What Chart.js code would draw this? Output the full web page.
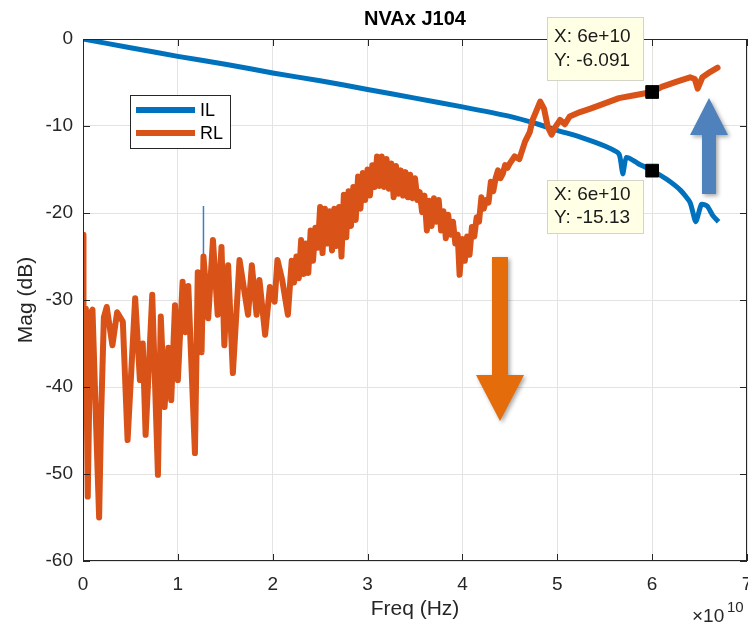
<!DOCTYPE html>
<html>
<head>
<meta charset="utf-8">
<title>NVAx J104</title>
<script src="https://cdn.jsdelivr.net/npm/chart.js@4"></script>
<style>
  html, body { margin: 0; padding: 0; background: #fff; }
  #wrap { width: 748px; height: 625px; position: relative; }
</style>
</head>
<body>
<div id="wrap"><canvas id="magChart" width="748" height="625"></canvas></div>
<script>
// frequency in units of 1e10 Hz, magnitude in dB
const ilFreq = [0, 0.5, 1.0, 1.5, 2.0, 2.5, 3.0, 3.5, 4.0, 4.5, 4.8, 5.0, 5.25, 5.5, 5.65, 5.69, 5.73, 5.85, 6.0, 6.15, 6.3, 6.4, 6.46, 6.52, 6.58, 6.64, 6.7];
const ilMag = [0, -1.0, -2.0, -2.9, -3.9, -4.8, -5.8, -6.8, -7.8, -8.9, -9.8, -10.5, -11.3, -12.3, -13.2, -15.5, -13.6, -14.3, -15.13, -16.1, -17.4, -18.8, -21.0, -19.0, -19.2, -20.3, -21.0];

const rlFreq = [0.00, 0.005, 0.03, 0.05, 0.08, 0.10, 0.14, 0.17, 0.19, 0.22, 0.25, 0.31, 0.36, 0.42, 0.47, 0.55, 0.60, 0.63, 0.66, 0.73,
  0.79, 0.82, 0.86, 0.90, 0.93, 0.97, 1.00, 1.05, 1.08, 1.11, 1.18, 1.21, 1.25, 1.27, 1.32, 1.37, 1.42, 1.46, 1.49, 1.53,
  1.58, 1.65, 1.74, 1.78, 1.83, 1.86, 1.92, 1.97, 2.02, 2.05, 2.10, 2.16,
  2.20, 2.225, 2.25, 2.275, 2.30, 2.325, 2.35, 2.375, 2.40, 2.425, 2.45, 2.475, 2.50, 2.525, 2.55, 2.575, 2.60, 2.625, 2.65, 2.675,
  2.70, 2.725, 2.75, 2.775, 2.80, 2.825, 2.85, 2.875, 2.90, 2.925, 2.95, 2.975, 3.00, 3.025, 3.05, 3.075, 3.10, 3.125, 3.15, 3.175,
  3.20, 3.225, 3.25, 3.275, 3.30, 3.325, 3.35, 3.375, 3.40, 3.425, 3.45, 3.475, 3.50, 3.525, 3.55, 3.575, 3.60, 3.625, 3.65, 3.675,
  3.70, 3.725, 3.75, 3.775, 3.80, 3.825, 3.85, 3.875, 3.90, 3.925, 3.95, 3.97, 4.00, 4.025, 4.05, 4.075, 4.10, 4.125, 4.15, 4.175,
  4.20, 4.225, 4.25, 4.275, 4.30, 4.325, 4.35, 4.375, 4.40, 4.425, 4.45, 4.475, 4.50,
  4.55, 4.60, 4.66, 4.71, 4.74, 4.82, 4.86, 4.90, 4.94, 4.98, 5.03, 5.08, 5.13, 5.24,
  5.35, 5.45, 5.55, 5.65, 5.80, 6.00, 6.10, 6.26, 6.40, 6.45, 6.48, 6.53, 6.61, 6.69];
const rlMag = [-22.5, -41, -31, -52.6, -31.5, -31.1, -45, -55.0, -43.8, -32, -30.8, -35.2, -31.4, -32.5, -46.1, -29.8, -39.2, -35, -45.5, -29.4,
  -50.1, -31.9, -42.3, -35.5, -41.5, -30.6, -39.2, -27.9, -33.7, -28.4, -47.6, -26.8, -36, -25.0, -32.1, -23.1, -31.7, -23.9, -35.2, -26,
  -38.4, -25.4, -31.7, -26, -31.7, -27.7, -34, -28.5, -30.2, -25.4, -27.7, -31.7,
  -25.5, -28, -25, -27.5, -23.1, -27, -23.5, -26.9, -22, -25.5, -21.7, -24, -19.3, -24.6, -19.5, -23.5, -19.8, -24.3, -19.5, -23.8,
  -19.3, -25, -17.9, -22.8, -17.5, -21.5, -17, -20.8, -15.8, -19.5, -15.4, -18.5, -15, -18, -14.5, -17, -13.5, -16.9, -13.5, -17,
  -13.8, -17.2, -14.3, -18.2, -14.6, -17.8, -15.1, -18, -15.3, -18.2, -15.6, -18.3, -16, -18.5, -17.6, -19.9, -18, -22, -18.6, -21.5,
  -18.3, -21, -18.5, -22, -19.8, -22.9, -20.2, -22.5, -21, -23.5, -22.5, -27.1, -23, -25.5, -22.7, -24.8, -21.6, -22.7, -20.5, -21,
  -18.2, -19.5, -18.5, -18.8, -16.4, -17.5, -16, -15.1, -16, -15.5, -14.5, -14.8, -14.3,
  -13.5, -13.8, -11.8, -10.7, -9.3, -7.2, -8.0, -10.1, -11.0, -10.1, -9.3, -9.8, -8.9, -8.4,
  -8.0, -7.6, -7.2, -6.8, -6.5, -6.091, -5.5, -4.9, -4.4, -4.6, -5.7, -4.4, -3.8, -3.3];

// short IL glitch near 1.27e10
const spikeFreq = [1.27, 1.27];
const spikeMag = [-19.2, -25.0];

// data cursors
const tipFreq = [6, 6];
const tipMag = [-6.091, -15.13];
const tipText = [['X: 6e+10', 'Y: -6.091'], ['X: 6e+10', 'Y: -15.13']];

const xTicks = [0, 1, 2, 3, 4, 5, 6, 7];
const yTicks = [0, -10, -20, -30, -40, -50, -60];

const IL_COLOR = '#0072BD';
const RL_COLOR = '#D95319';
const AXIS_COLOR = '#262626';
const FONT = '"Liberation Sans", Arial, sans-serif';

const pts = (xs, ys) => xs.map((x, i) => ({ x: x, y: ys[i] }));

// box, inward ticks, x tick labels, title, labels, legend, data tips and arrows
const decorations = {
  id: 'decorations',
  afterDatasetsDraw(chart) {
    const ctx = chart.ctx;
    const a = chart.chartArea;
    const xs = chart.scales.x, ys = chart.scales.y;
    ctx.save();

    // axes box with inward ticks
    ctx.strokeStyle = AXIS_COLOR;
    ctx.lineWidth = 1;
    ctx.strokeRect(a.left + 0.5, a.top + 0.5, a.right - a.left - 1, a.bottom - a.top - 1);
    ctx.beginPath();
    xTicks.forEach(v => {
      const px = Math.round(xs.getPixelForValue(v)) + 0.5;
      ctx.moveTo(px, a.bottom); ctx.lineTo(px, a.bottom - 7);
      ctx.moveTo(px, a.top); ctx.lineTo(px, a.top + 7);
    });
    yTicks.forEach(v => {
      const py = Math.round(ys.getPixelForValue(v)) + 0.5;
      ctx.moveTo(a.left, py); ctx.lineTo(a.left + 7, py);
      ctx.moveTo(a.right, py); ctx.lineTo(a.right - 7, py);
    });
    ctx.stroke();

    // x tick labels
    ctx.fillStyle = AXIS_COLOR;
    ctx.textAlign = 'center';
    ctx.textBaseline = 'middle';
    ctx.font = '19px ' + FONT;
    xTicks.forEach(v => ctx.fillText(String(v), xs.getPixelForValue(v), a.bottom + 24));

    // title and axis labels
    ctx.fillStyle = '#000';
    ctx.font = 'bold 20px ' + FONT;
    ctx.fillText('NVAx J104', (a.left + a.right) / 2, 19);
    ctx.fillStyle = AXIS_COLOR;
    ctx.font = '21px ' + FONT;
    ctx.fillText('Freq (Hz)', (a.left + a.right) / 2, 609);
    ctx.save();
    ctx.translate(26, (a.top + a.bottom) / 2);
    ctx.rotate(-Math.PI / 2);
    ctx.fillText('Mag (dB)', 0, 0);
    ctx.restore();

    // exponent label
    ctx.textAlign = 'left';
    ctx.textBaseline = 'alphabetic';
    ctx.font = '19px ' + FONT;
    ctx.fillText('\u00d710', 692, 622);
    ctx.font = '15px ' + FONT;
    ctx.fillText('10', 727, 612);

    // legend
    ctx.fillStyle = '#fff';
    ctx.fillRect(130, 95, 100, 53);
    ctx.strokeStyle = AXIS_COLOR;
    ctx.strokeRect(130.5, 95.5, 100, 53);
    const entries = [chart.data.datasets[3], chart.data.datasets[1]];
    entries.forEach((ds, i) => {
      const y = 110 + i * 23;
      ctx.strokeStyle = ds.borderColor;
      ctx.lineWidth = 6;
      ctx.beginPath();
      ctx.moveTo(136, y); ctx.lineTo(195, y);
      ctx.stroke();
      ctx.fillStyle = '#000';
      ctx.font = '18px ' + FONT;
      ctx.textBaseline = 'middle';
      ctx.fillText(ds.label, 200, y + 1);
    });

    // data tip boxes
    const boxes = [{ x: 547, y: 17, h: 63 }, { x: 547, y: 180, h: 53 }];
    boxes.forEach((b, i) => {
      ctx.fillStyle = '#ffffe6';
      ctx.fillRect(b.x, b.y, 96, b.h);
      ctx.strokeStyle = '#d4d4c8';
      ctx.lineWidth = 1;
      ctx.strokeRect(b.x + 0.5, b.y + 0.5, 96, b.h);
      ctx.fillStyle = '#1a1a1a';
      ctx.font = '19px ' + FONT;
      ctx.textBaseline = 'middle';
      ctx.fillText(tipText[i][0], b.x + 7, b.y + (i ? 15 : 20));
      ctx.fillText(tipText[i][1], b.x + 7, b.y + (i ? 38 : 44));
    });

    // arrows
    ctx.shadowColor = 'rgba(0,0,0,0.35)';
    ctx.shadowBlur = 4;
    ctx.shadowOffsetX = 2;
    ctx.shadowOffsetY = 2;
    ctx.fillStyle = '#E46C0A';
    ctx.beginPath();
    ctx.moveTo(492, 257); ctx.lineTo(508, 257); ctx.lineTo(508, 375);
    ctx.lineTo(524, 375); ctx.lineTo(500, 421); ctx.lineTo(476, 375);
    ctx.lineTo(492, 375); ctx.closePath();
    ctx.fill();
    ctx.fillStyle = '#4F81BD';
    ctx.beginPath();
    ctx.moveTo(702, 194); ctx.lineTo(716, 194); ctx.lineTo(716, 135);
    ctx.lineTo(728, 135); ctx.lineTo(709, 98); ctx.lineTo(690, 135);
    ctx.lineTo(702, 135); ctx.closePath();
    ctx.fill();

    ctx.restore();
  }
};

new Chart(document.getElementById('magChart'), {
  type: 'line',
  data: {
    datasets: [
      {
        label: 'tips',
        data: pts(tipFreq, tipMag),
        showLine: false,
        pointStyle: 'rect',
        pointRadius: 9,
        pointBackgroundColor: '#000',
        pointBorderColor: '#000',
        order: 0
      },
      {
        label: 'RL',
        data: pts(rlFreq, rlMag),
        borderColor: RL_COLOR,
        borderWidth: 6,
        borderJoinStyle: 'round',
        borderCapStyle: 'round',
        pointRadius: 0,
        tension: 0,
        order: 1
      },
      {
        label: 'spike',
        data: pts(spikeFreq, spikeMag),
        borderColor: '#3F7FC0',
        borderWidth: 1.5,
        pointRadius: 0,
        order: 2
      },
      {
        label: 'IL',
        data: pts(ilFreq, ilMag),
        borderColor: IL_COLOR,
        borderWidth: 5,
        borderJoinStyle: 'round',
        pointRadius: 0,
        tension: 0.2,
        order: 3
      }
    ]
  },
  options: {
    responsive: false,
    animation: false,
    events: [],
    layout: { autoPadding: false, padding: { top: 39, right: 1, left: 0, bottom: 0 } },
    plugins: { legend: { display: false }, tooltip: { enabled: false }, title: { display: false } },
    scales: {
      x: {
        type: 'linear',
        min: 0,
        max: 7,
        afterBuildTicks: s => { s.ticks = xTicks.map(v => ({ value: v })); },
        afterFit: s => { s.height = 64; },
        border: { display: false },
        grid: { color: '#e3e3e3', drawTicks: false },
        ticks: { display: false }
      },
      y: {
        type: 'linear',
        min: -60,
        max: 0,
        afterBuildTicks: s => { s.ticks = yTicks.map(v => ({ value: v })); },
        afterFit: s => { s.width = 83; },
        border: { display: false },
        grid: { color: '#e3e3e3', drawTicks: false },
        ticks: { padding: 10, color: AXIS_COLOR, font: { family: FONT, size: 19 }, callback: v => String(v) }
      }
    }
  },
  plugins: [decorations]
});
</script>
</body>
</html>
